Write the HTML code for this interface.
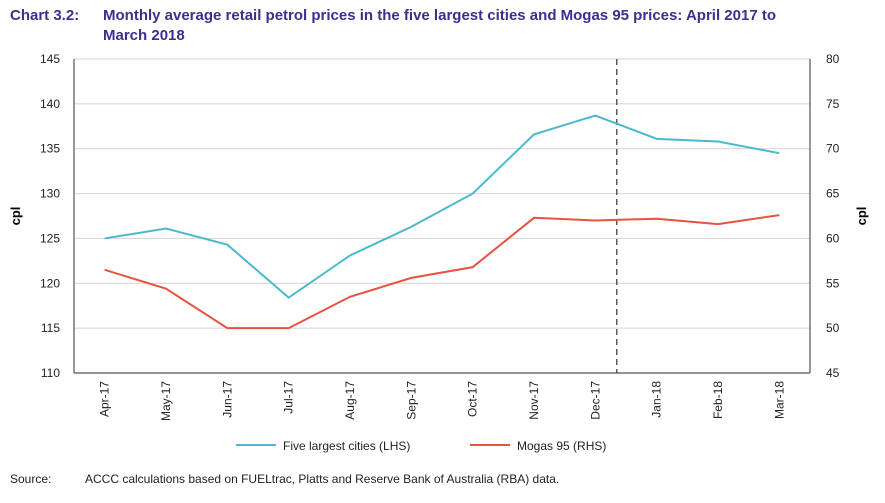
<!DOCTYPE html>
<html><head><meta charset="utf-8"><style>
body{margin:0;background:#fff;font-family:"Liberation Sans",sans-serif;}
</style></head><body>
<svg width="885" height="498" xmlns="http://www.w3.org/2000/svg">
<text x="10" y="20" font-size="15" font-weight="bold" fill="#3b2f8f">Chart 3.2:</text>
<text x="103" y="20" font-size="15" font-weight="bold" fill="#3b2f8f">Monthly average retail petrol prices in the five largest cities and Mogas 95 prices: April 2017 to</text>
<text x="103" y="40" font-size="15" font-weight="bold" fill="#3b2f8f">March 2018</text>
<g id="grid"></g>
<line x1="74" y1="59" x2="74" y2="373" stroke="#555" stroke-width="1.2"/>
<line x1="810" y1="59" x2="810" y2="373" stroke="#555" stroke-width="1.2"/>
<line x1="74" y1="373" x2="810" y2="373" stroke="#555" stroke-width="1.2"/>
<g id="axes"></g>
<g id="marks"></g>
<text transform="translate(20,216) rotate(-90)" text-anchor="middle" font-size="13" font-weight="bold">cpl</text>
<text transform="translate(866,216) rotate(-90)" text-anchor="middle" font-size="13" font-weight="bold">cpl</text>
<g>
<line x1="236" y1="445" x2="276" y2="445" stroke="#4bb8cf" stroke-width="2"/>
<text x="283" y="450" font-size="12" fill="#222">Five largest cities (LHS)</text>
<line x1="470" y1="445" x2="510" y2="445" stroke="#e8523f" stroke-width="2"/>
<text x="517" y="450" font-size="12" fill="#222">Mogas 95 (RHS)</text>
</g>
<text x="10" y="483" font-size="12" fill="#222">Source:</text>
<text x="85" y="483" font-size="12" fill="#222">ACCC calculations based on FUELtrac, Platts and Reserve Bank of Australia (RBA) data.</text>
</svg>
<script>
const categories=["Apr-17","May-17","Jun-17","Jul-17","Aug-17","Sep-17","Oct-17","Nov-17","Dec-17","Jan-18","Feb-18","Mar-18"];
const cities=[125.0,126.1,124.3,118.4,123.1,126.3,130.0,136.6,138.7,136.1,135.8,134.5];
const mogas=[56.5,54.4,50.0,50.0,53.5,55.6,56.8,62.3,62.0,62.2,61.6,62.6];
const leftTicks=[110,115,120,125,130,135,140,145];
const rightTicks=[45,50,55,60,65,70,75,80];
const NS="http://www.w3.org/2000/svg";
const L=74,R=810,T=59,B=373;
const band=(R-L)/categories.length;
const x=i=>L+band*(i+0.5);
const yL=v=>B-(v-110)/(145-110)*(B-T);
const yR=v=>B-(v-45)/(80-45)*(B-T);
const axes=document.getElementById('axes'),marks=document.getElementById('marks'),grid=document.getElementById('grid');
function mk(tag,attrs,parent,txt){const e=document.createElementNS(NS,tag);for(const k in attrs)e.setAttribute(k,attrs[k]);if(txt!==undefined)e.textContent=txt;parent.appendChild(e);return e;}
leftTicks.forEach(v=>{
  const g=mk('line',{x1:L,y1:yL(v),x2:R,y2:yL(v),stroke:'#d4d4d4','stroke-width':1},grid);
  
  
  const t=mk('text',{x:L-14,y:yL(v)+4,'text-anchor':'end','font-size':12,fill:'#222'},axes,v);
  
  
});
rightTicks.forEach(v=>{
  const t=mk('text',{x:R+16,y:yR(v)+4,'font-size':12,fill:'#222'},axes,v);
  
  
});
categories.forEach((c,i)=>{
  const t=mk('text',{transform:`translate(${x(i)+4},381) rotate(-90)`,'text-anchor':'end','font-size':12,fill:'#222'},axes,c);
  
  
});
const dx=x(8)*0.65+x(9)*0.35;
const d=mk('line',{x1:dx,y1:T,x2:dx,y2:B,stroke:'#333','stroke-width':1.2,'stroke-dasharray':'6,4'},marks);


const p1=mk('polyline',{points:cities.map((v,i)=>x(i)+','+yL(v)).join(' '),fill:'none',stroke:'#4bb8cf','stroke-width':2},marks);


const p2=mk('polyline',{points:mogas.map((v,i)=>x(i)+','+yR(v)).join(' '),fill:'none',stroke:'#e8523f','stroke-width':2},marks);


</script>
</body></html>
